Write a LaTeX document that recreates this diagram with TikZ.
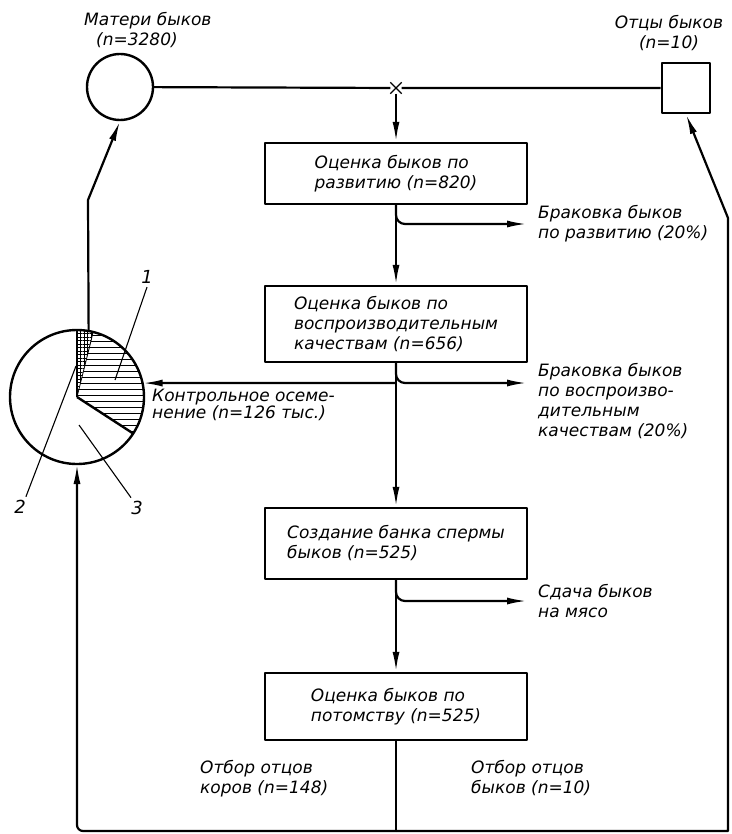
\documentclass[tikz,border=0pt]{standalone}
\usepackage{fontspec}
\setmainfont{DejaVu Sans}
\usepackage{tikz}
\usetikzlibrary{positioning,arrows.meta,calc,shapes.misc,patterns.meta}

\begin{document}
\begin{tikzpicture}[x=1pt,y=1pt,line join=round,
    font=\itshape\fontsize{17}{20}\selectfont,
    box/.style={draw,line width=2.4pt,minimum width=262pt,align=left,inner sep=4pt},
    arr/.style={line width=2.2pt,-{Latex[length=20pt,width=7pt]}},
    ln/.style={line width=2.2pt},
    lbl/.style={align=left,inner sep=0pt}]
  \useasboundingbox (0,0) rectangle (731,-834);
  % parents: mothers (circle), fathers (square), mating point
  \node[draw,circle,line width=2.4pt,minimum size=66pt,inner sep=0pt] (mother) at (120,-87) {};
  \node[draw,line width=2.6pt,minimum width=48pt,minimum height=50pt,inner sep=0pt] (father) at (686,-88) {};
  \node[lbl,anchor=north west] (mlab) at (84,-12) {Матери быков\\\hspace{12pt}(n=3280)};
  \node[lbl,align=center] (flab) at (669,-33) {Отцы быков\\(n=10)};
  \node[draw,cross out,line width=1.4pt,minimum size=10pt,inner sep=0pt] (mate) at (396,-88) {};
  \draw[ln] (mother) -- (mate) -- (father);
  % evaluation stages
  \node[box,minimum height=61pt] (b1) at (396,-173.5) {Оценка быков по\\развитию (n=820)};
  \node[box,minimum height=76pt] (b2) at (396,-324) {Оценка быков по\\воспроизводительным\\качествам (n=656)};
  \node[box,minimum height=71pt] (b3) at (396,-543.5) {Создание банка спермы\\быков (n=525)};
  \node[box,minimum height=67pt] (b4) at (396,-706.5) {Оценка быков по\\потомству (n=525)};
  \draw[arr] (mate) -- (b1);
  \draw[arr] (b1) -- (b2);
  \draw[arr] (b2) -- (b3);
  \draw[arr] (b3) -- (b4);
  % culling branches
  \coordinate (t1) at (527,-224);
  \coordinate (t2) at (527,-383);
  \coordinate (t3) at (527,-601);
  \draw[arr,rounded corners=9pt] (b1.south) |- (t1);
  \draw[arr,rounded corners=9pt] (b2.south) |- (t2);
  \draw[arr,rounded corners=9pt] (b3.south) |- (t3);
  \node[lbl,right=11pt of t1] (rej1) {Браковка быков\\по развитию (20\%)};
  \node[lbl,anchor=north west] (rej2) at (538,-363) {Браковка быков\\по воспроизво-\\дительным\\качествам (20\%)};
  \node[lbl,right=11pt of t3] (rej3) {Сдача быков\\на мясо};
  % pie of daughters
  \node[circle,minimum size=134pt,inner sep=0pt,outer sep=0pt] (pie) at (77,-397) {};
  \fill[pattern={Lines[angle=0,distance=6pt,line width=1pt]}] (pie.center) -- ++(-33:67pt) arc[start angle=-33,end angle=76,radius=67pt] -- cycle;
  \fill[pattern={Hatch[angle=0,distance=3.5pt,line width=0.9pt]}] (pie.center) -- ++(76:67pt) arc[start angle=76,end angle=90,radius=67pt] -- cycle;
  \draw[line width=2.4pt] (pie.center) circle[radius=67pt];
  \draw[line width=2.4pt] (pie.center) -- ++(90:67pt);
  \draw[line width=2.4pt] (pie.center) -- ++(-33:67pt);
  \draw[line width=0.8pt] (pie.center) -- ++(76:67pt);
  \node[font=\itshape\fontsize{18}{20}\selectfont] (n1) at (147,-277) {1};
  \node[font=\itshape\fontsize{18}{20}\selectfont] (n2) at (20,-507) {2};
  \node[font=\itshape\fontsize{18}{20}\selectfont] (n3) at (137,-508) {3};
  \coordinate (p1) at (115,-380);
  \coordinate (p2) at (76,-366);
  \coordinate (p3) at (79,-425);
  \draw[line width=1.1pt] (n1.south) -- (p1);
  \draw[line width=1.1pt] (n2.60) -- (p2);
  \draw[line width=1.1pt] (n3.120) -- (p3);
  % test insemination
  \coordinate (j2) at (396,-383);
  \draw[arr] (j2) -- (pie.12);
  \node[lbl,anchor=north west,font=\itshape\fontsize{17}{17}\selectfont] (ctrl) at (152,-389) {Контрольное осеме-\\нение (n=126 тыс.)};
  \coordinate (bend) at (88,-200);
  \draw[arr] (pie.80) -- (bend) -- (mother.south);
  % selection of sires
  \coordinate (bot) at (396,-831);
  \coordinate (rb) at (728,-831);
  \coordinate (rc) at (728,-218);
  \draw[ln] (b4) -- (bot);
  \draw[arr,rounded corners=6pt] (bot) -| (pie.south);
  \draw[arr] (bot) -- (rb) -- (rc) -- (father.south);
  \node[lbl,anchor=north west] (sel1) at (200,-760) {Отбор отцов\\коров (n=148)};
  \node[lbl,anchor=north west] (sel2) at (471,-760) {Отбор отцов\\быков (n=10)};
\end{tikzpicture}
\end{document}
